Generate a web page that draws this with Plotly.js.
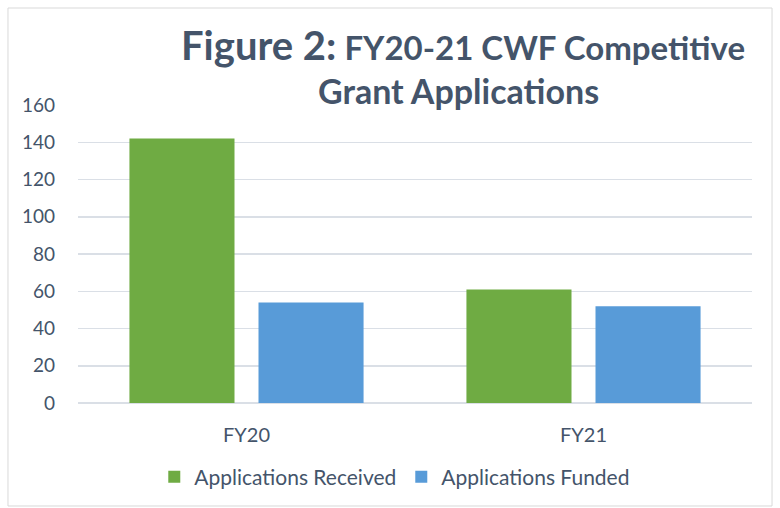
<!DOCTYPE html>
<html>
<head>
<meta charset="utf-8">
<script src="https://cdn.plot.ly/plotly-3.0.1.min.js"></script>
<style>
  html, body { margin: 0; padding: 0; background: #fff; }
  #chart { width: 780px; height: 508px; }
</style>
</head>
<body>
<div id="chart"></div>
<script>
// chart data
const years = ["FY20", "FY21"];
const received = [142, 61];
const funded = [54, 52];
const seriesNames = ["Applications Received", "Applications Funded"];
const yTicks = [0, 20, 40, 60, 80, 100, 120, 140, 160];

const slate = "#44546A";
const font = "Lato, 'Open Sans', sans-serif";

const traces = [
    {
        type: "bar",
        name: seriesNames[0],
        x: years,
        y: received,
        marker: { color: "#6fab43", line: { width: 0 } },
        hoverinfo: "x+y+name"
    },
    {
        type: "bar",
        name: seriesNames[1],
        x: years,
        y: funded,
        marker: { color: "#589bd8", line: { width: 0 } },
        hoverinfo: "x+y+name"
    }
];

// plot area sits at x 78..752, y 105..403 (px)
const layout = {
    width: 780,
    height: 508,
    margin: { l: 78, r: 28, t: 105, b: 105, autoexpand: false },
    paper_bgcolor: "#ffffff",
    plot_bgcolor: "#ffffff",
    font: { family: font, color: slate, size: 18 },
    barmode: "group",
    bargap: 0.234,
    bargroupgap: 0.186,
    showlegend: true,
    legend: {
        orientation: "h",
        x: 0.47,
        xanchor: "center",
        y: -0.18,
        yanchor: "top",
        font: { size: 21, color: slate },
        itemwidth: 30,
        traceorder: "normal"
    },
    xaxis: {
        type: "category",
        automargin: false,
        showgrid: false,
        showline: false,
        ticks: "",
        ticklabelstandoff: 18,
        tickfont: { size: 20, color: slate },
        fixedrange: true
    },
    yaxis: {
        range: [0, 160],
        automargin: false,
        tickvals: yTicks,
        ticktext: yTicks.map(String),
        showgrid: true,
        gridcolor: "#dadfe6",
        gridwidth: 1.5,
        zeroline: true,
        zerolinecolor: "#dadfe6",
        zerolinewidth: 1.5,
        showline: false,
        ticks: "",
        ticklabelstandoff: 22,
        tickfont: { size: 19, color: slate },
        fixedrange: true
    },
    annotations: [
        {
            xref: "paper", yref: "paper",
            x: 0.571, y: 1.2,
            xanchor: "center", yanchor: "middle",
            showarrow: false,
            text: "<b><span style='font-size:40px'>Figure 2:</span> FY20-21 CWF Competitive</b>",
            font: { family: font, size: 33, color: slate }
        },
        {
            xref: "paper", yref: "paper",
            x: 0.564, y: 1.047,
            xanchor: "center", yanchor: "middle",
            showarrow: false,
            text: "<b>Grant Applications</b>",
            font: { family: font, size: 34, color: slate }
        }
    ],
    shapes: [
        {
            type: "rect",
            xref: "paper", yref: "paper",
            x0: -0.1039, x1: 1.0297,
            y0: -0.3456, y1: 1.3255,
            line: { color: "#d9d9d9", width: 1 },
            fillcolor: "rgba(0,0,0,0)",
            layer: "below"
        }
    ]
};

Plotly.newPlot("chart", traces, layout, { displayModeBar: false, staticPlot: true });
</script>
</body>
</html>
